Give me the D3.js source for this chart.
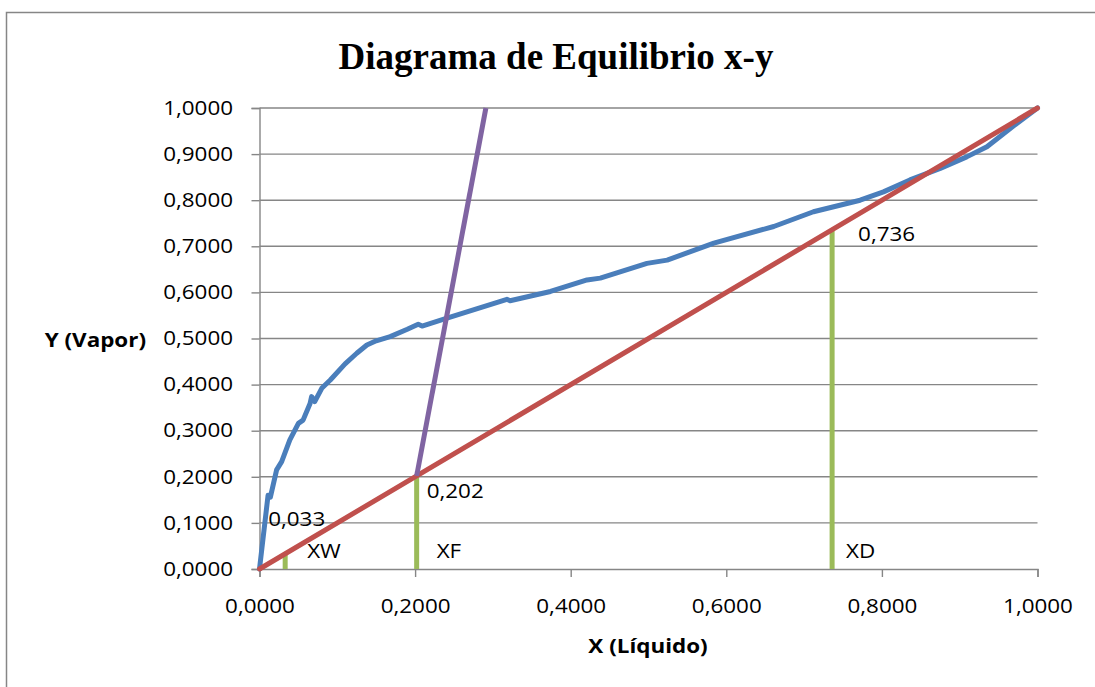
<!DOCTYPE html>
<html>
<head>
<meta charset="utf-8">
<script src="https://cdn.jsdelivr.net/npm/d3@7"></script>
<style>
  html, body { margin: 0; padding: 0; background: #ffffff; }
  svg { display: block; }
</style>
</head>
<body>
<svg id="chart" width="1095" height="687"></svg>
<script>
// Equilibrium curve (liquid x, vapour y)
const eqX = [0, 0.011, 0.014, 0.022, 0.0285, 0.039, 0.050, 0.056, 0.065, 0.067, 0.071, 0.080, 0.091,
  0.110, 0.125, 0.138, 0.150, 0.168, 0.190, 0.204, 0.209, 0.241, 0.280, 0.318, 0.322, 0.374, 0.421,
  0.438, 0.498, 0.524, 0.584, 0.661, 0.712, 0.772, 0.802, 0.836, 0.875, 0.909, 0.935, 0.969, 1.0];
const eqY = [0, 0.160, 0.156, 0.215, 0.233, 0.280, 0.316, 0.323, 0.359, 0.374, 0.363, 0.392, 0.410,
  0.445, 0.468, 0.486, 0.495, 0.504, 0.520, 0.531, 0.527, 0.544, 0.565, 0.585, 0.582, 0.602, 0.627,
  0.631, 0.663, 0.670, 0.707, 0.743, 0.775, 0.800, 0.818, 0.844, 0.869, 0.894, 0.916, 0.961, 1.0];

// 45° reference line y = x
const diagX = [0, 1];
const diagY = [0, 1];

// Feed line (q-line) starting on the diagonal at XF
const qX = [0.202, 0.291];
const qY = [0.202, 1.0];

// Key compositions: bottoms, feed, distillate
const compNames = ["XW", "XF", "XD"];
const compValues = [0.033, 0.202, 0.736];

// Axis ticks
const yTicks = [0, 0.1, 0.2, 0.3, 0.4, 0.5, 0.6, 0.7, 0.8, 0.9, 1.0];
const xTicks = [0, 0.2, 0.4, 0.6, 0.8, 1.0];

const titleText = "Diagrama de Equilibrio x-y";
const xTitle = "X (Líquido)";
const yTitle = "Y (Vapor)";

// ---- layout ----
const svg = d3.select("#chart");
const W = 1095, H = 687;
const plot = { left: 259.5, right: 1037.5, top: 108, bottom: 569 };
const FONT = "'Open Sans', 'Noto Sans', sans-serif";
const FS = 19.5, SX = 1.15;
const gridColor = "#868686";
const colors = { eq: "#4a7ebb", diag: "#c0504d", q: "#8064a2", comp: "#9bbb59" };
const lw = 5;

const x = d3.scaleLinear().domain([0, 1]).range([plot.left, plot.right]);
const y = d3.scaleLinear().domain([0, 1]).range([plot.bottom, plot.top]);

const fmt = d3.formatLocale({ decimal: ",", thousands: ".", grouping: [3], currency: ["", ""] });
const f4 = fmt.format(".4f");
const f3 = fmt.format(".3f");

svg.append("rect").attr("width", W).attr("height", H).attr("fill", "#fff");
// chart-area frame
svg.append("rect")
  .attr("x", 6.5).attr("y", 12.5).attr("width", 1300).attr("height", 1000)
  .attr("fill", "none").attr("stroke", gridColor).attr("stroke-width", 1.5);

// title
svg.append("text")
  .attr("x", 556).attr("y", 69)
  .attr("text-anchor", "middle")
  .attr("font-family", "'Liberation Serif', 'Times New Roman', serif")
  .attr("font-weight", "bold")
  .attr("font-size", 37)
  .text(titleText);

// horizontal gridlines
svg.append("g")
  .selectAll("line")
  .data(yTicks.slice(1))
  .join("line")
  .attr("x1", plot.left).attr("x2", plot.right)
  .attr("y1", d => y(d)).attr("y2", d => y(d))
  .attr("stroke", gridColor).attr("stroke-width", 1.4);

// y axis
const yAxisG = svg.append("g")
  .attr("transform", `translate(${plot.left},0)`)
  .call(d3.axisLeft(y).tickValues(yTicks).tickSize(8).tickPadding(15).tickFormat(f4));
// x axis
const xAxisG = svg.append("g")
  .attr("transform", `translate(0,${plot.bottom})`)
  .call(d3.axisBottom(x).tickValues(xTicks).tickSize(8).tickPadding(22).tickFormat(f4));

[yAxisG, xAxisG].forEach(g => {
  g.select(".domain").attr("stroke", gridColor).attr("stroke-width", 1.4);
  g.selectAll(".tick line").attr("stroke", gridColor).attr("stroke-width", 1.4);
  g.selectAll(".tick text")
    .attr("font-family", FONT).attr("font-size", FS).attr("fill", "#000")
    .attr("transform", `scale(${SX},1)`);
});

// axis titles
svg.append("text")
  .attr("transform", `translate(648,653) scale(${SX},1)`)
  .attr("text-anchor", "middle")
  .attr("font-family", FONT).attr("font-weight", "bold").attr("font-size", FS)
  .text(xTitle);
svg.append("text")
  .attr("transform", `translate(146,347) scale(${SX},1)`)
  .attr("text-anchor", "end")
  .attr("font-family", FONT).attr("font-weight", "bold").attr("font-size", FS)
  .text(yTitle);

const line = d3.line().x(d => x(d[0])).y(d => y(d[1]));

// equilibrium curve
svg.append("path")
  .datum(eqX.map((v, i) => [v, eqY[i]]))
  .attr("d", line)
  .attr("fill", "none").attr("stroke", colors.eq).attr("stroke-width", lw)
  .attr("stroke-linejoin", "round").attr("stroke-linecap", "round");

// composition markers (vertical bars from axis to diagonal)
svg.append("g")
  .selectAll("path")
  .data(compValues)
  .join("path")
  .attr("d", v => line([[v, 0], [v, v]]))
  .attr("fill", "none").attr("stroke", colors.comp).attr("stroke-width", lw)
  .attr("stroke-linecap", "butt");

// diagonal
svg.append("path")
  .datum(diagX.map((v, i) => [v, diagY[i]]))
  .attr("d", line)
  .attr("fill", "none").attr("stroke", colors.diag).attr("stroke-width", lw)
  .attr("stroke-linecap", "round");

// q-line
svg.append("path")
  .datum(qX.map((v, i) => [v, qY[i]]))
  .attr("d", line)
  .attr("fill", "none").attr("stroke", colors.q).attr("stroke-width", lw)
  .attr("stroke-linecap", "butt");

// labels: value at the top of each bar, name near the base
const valueOffsets = [[-17, -28], [10, 22], [26, 11]];
const nameOffsets = [[22, -11], [20, -11], [14, -11]];

const labels = svg.append("g")
  .attr("font-family", FONT).attr("font-size", FS).attr("fill", "#000");
compValues.forEach((v, i) => {
  labels.append("text")
    .attr("transform", `translate(${x(v) + valueOffsets[i][0]},${y(v) + valueOffsets[i][1]}) scale(${SX},1)`)
    .text(f3(v));
  labels.append("text")
    .attr("transform", `translate(${x(v) + nameOffsets[i][0]},${y(0) + nameOffsets[i][1]}) scale(${SX},1)`)
    .text(compNames[i]);
});
</script>
</body>
</html>
